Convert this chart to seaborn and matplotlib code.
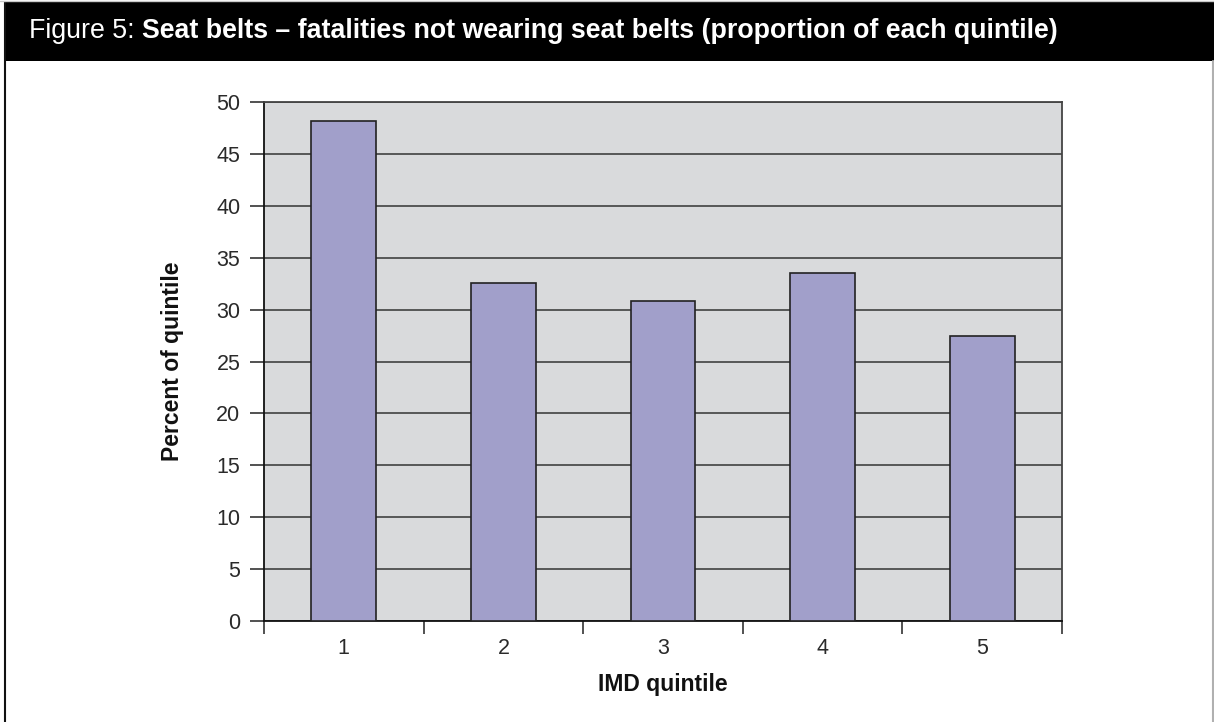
import matplotlib
matplotlib.use("Agg")
import matplotlib.pyplot as plt
from matplotlib.lines import Line2D
from matplotlib.patches import Rectangle
from matplotlib.ticker import FixedLocator
import seaborn as sns
import pandas as pd

# Data
quintiles = ["1", "2", "3", "4", "5"]
pct_not_wearing = [48.2, 32.6, 30.8, 33.5, 27.5]
y_ticks = [0, 5, 10, 15, 20, 25, 30, 35, 40, 45, 50]

title_plain = "Figure 5: "
title_heavy = "Seat belts"
title_bold = " \u2013 fatalities not wearing seat belts (proportion of each quintile)"
x_label = "IMD quintile"
y_label = "Percent of quintile"

sns.set_style("ticks")
plt.rcParams["font.family"] = ["Liberation Sans", "DejaVu Sans"]

df = pd.DataFrame({"quintile": quintiles, "pct": pct_not_wearing})

W, H = 1214, 722
fig = plt.figure(figsize=(W / 100, H / 100), dpi=100)
fig.patch.set_facecolor("white")

ax = fig.add_axes([264 / W, 1 - 621 / H, (1062 - 264) / W, (621 - 102) / H])
ax.set_facecolor("#d9dadc")

sns.barplot(data=df, x="quintile", y="pct", color="#a19fca", width=0.405,
            edgecolor="#222222", linewidth=1.2, saturation=1, ax=ax, zorder=3)

ax.set_xlim(-0.5, 4.5)
ax.set_ylim(0, 50)
ax.yaxis.set_major_locator(FixedLocator(y_ticks))
ax.grid(axis="y", color="#333333", linewidth=1.1, zorder=1)
ax.set_axisbelow(True)

# category boundary ticks on x, labels at centres without marks
ax.xaxis.set_minor_locator(FixedLocator([-0.5, 0.5, 1.5, 2.5, 3.5, 4.5]))
ax.tick_params(axis="x", which="major", length=0, pad=12, labelsize=15.5, colors="#2a2a2a")
ax.tick_params(axis="x", which="minor", length=9, width=1.1, color="#222222", direction="out")
ax.tick_params(axis="y", which="major", length=10, width=1.1, color="#222222", pad=7,
               labelsize=15.5, labelcolor="#2a2a2a")

for side in ["left", "bottom"]:
    ax.spines[side].set_color("#111111")
    ax.spines[side].set_linewidth(1.3)
for side in ["top", "right"]:
    ax.spines[side].set_visible(True)
    ax.spines[side].set_color("#444444")
    ax.spines[side].set_linewidth(1.3)

ax.set_xlabel(x_label, fontsize=16.5, fontweight="bold", color="#111111")
ax.set_ylabel(y_label, fontsize=16.5, fontweight="bold", color="#111111")
ax.xaxis.set_label_coords(0.5, (621 - 685) / (621 - 102))
ax.xaxis.label.set_va("center")
ax.yaxis.set_label_coords((172 - 264) / (1062 - 264), 0.5)
ax.yaxis.label.set_va("center")

# Header band and frame
fig.add_artist(Rectangle((4 / W, 1 - 61 / H), 1 - 4 / W, 59 / H, transform=fig.transFigure,
                         facecolor="black", edgecolor="none"))
fig.add_artist(Line2D([4.5 / W, 4.5 / W], [0, 1 - 2 / H], transform=fig.transFigure,
                      color="#111111", linewidth=1.5))
fig.add_artist(Line2D([1212.5 / W, 1212.5 / W], [0, 1 - 61 / H], transform=fig.transFigure,
                      color="#b0b0b0", linewidth=1.5))
fig.add_artist(Line2D([0, 1], [1 - 0.5 / H, 1 - 0.5 / H], transform=fig.transFigure,
                      color="#c8c8c8", linewidth=1.0))

# Title assembled from three runs of differing weight
renderer = fig.canvas.get_renderer()
x = 29 / W
y = 1 - 38 / H
for text, weight in [(title_plain, "normal"), (title_heavy, "bold"), (title_bold, "bold")]:
    t = fig.text(x, y, text, color="white", fontsize=19.3, fontweight=weight,
                 ha="left", va="baseline")
    bb = t.get_window_extent(renderer=renderer)
    x = bb.x1 / W

fig.savefig("out.png", dpi=100, facecolor="white")
